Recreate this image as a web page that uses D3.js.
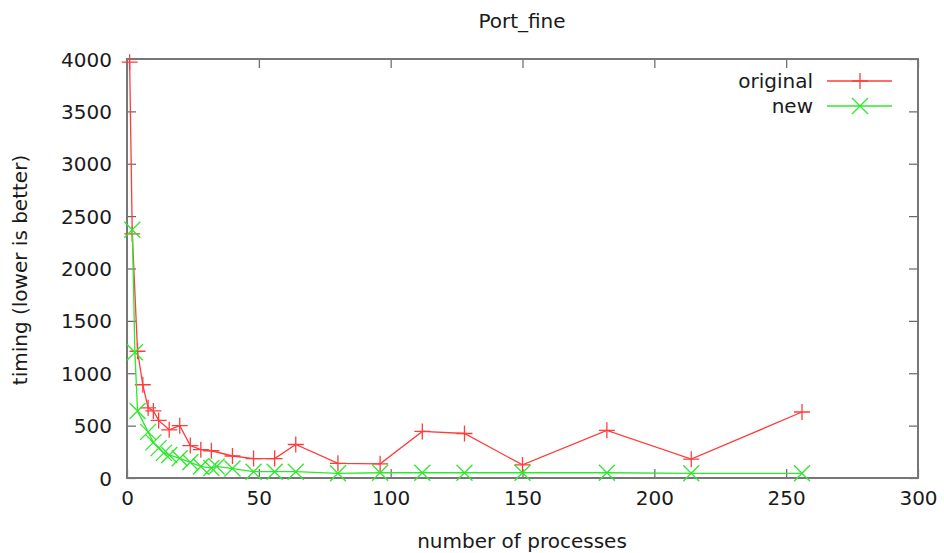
<!DOCTYPE html>
<html>
<head>
<meta charset="utf-8">
<script src="https://cdn.jsdelivr.net/npm/d3@7"></script>
<style>
	body { margin: 0; background: #fff; }
	svg text { font-family: "DejaVu Sans", sans-serif; fill: #1a1a1a; }
	.axis path { display: none; }
	.axis line { stroke: #666; stroke-width: 1.2; }
	.axis text { font-size: 20px; }
</style>
</head>
<body>
<div id="chart"></div>
<script>

var title = "Port_fine"
var xLabel = "number of processes"
var yLabel = "timing (lower is better)"

var xTicks = [0, 50, 100, 150, 200, 250, 300]
var yTicks = [0, 500, 1000, 1500, 2000, 2500, 3000, 3500, 4000]

// original
var originalX = [1, 2, 4, 6, 8, 10, 12, 16, 20, 24, 28, 32, 40, 48, 56, 64, 80, 96, 112, 128, 150, 182, 214, 256]
var originalY = [3970, 2330, 1210, 890, 670, 640, 550, 460, 500, 310, 270, 260, 210, 185, 185, 320, 140, 135, 445, 425, 125, 455, 180, 630]

// new
var newX = [2, 3, 4, 8, 10, 12, 14, 16, 20, 24, 28, 32, 34, 40, 48, 56, 64, 80, 96, 112, 128, 150, 182, 214, 256]
var newY = [2370, 1200, 640, 440, 340, 285, 240, 220, 188, 150, 110, 95, 110, 90, 60, 60, 60, 45, 50, 50, 50, 50, 50, 45, 45]

var width = 944
var height = 553

var margin = { left: 127, right: 26, top: 59, bottom: 75 }

var x = d3.scaleLinear().domain([0, 300]).range([margin.left, width - margin.right])
var y = d3.scaleLinear().domain([0, 4000]).range([height - margin.bottom, margin.top])

var svg = d3.select("#chart").append("svg")
	.attr("width", width)
	.attr("height", height)

// ticks, gnuplot style: inside, mirrored

var bottomAxis = svg.append("g")
	.attr("class", "axis")
	.attr("transform", `translate(0,${y(0)})`)
	.call(d3.axisBottom(x).tickValues(xTicks).tickSizeInner(-9).tickPadding(13).tickFormat(d3.format("d")))

bottomAxis.selectAll("text").attr("dy", "0.71em")

svg.append("g")
	.attr("class", "axis")
	.attr("transform", `translate(0,${y(4000)})`)
	.call(d3.axisTop(x).tickValues(xTicks).tickSizeInner(-9).tickFormat(""))

var leftAxis = svg.append("g")
	.attr("class", "axis")
	.attr("transform", `translate(${x(0)},0)`)
	.call(d3.axisLeft(y).tickValues(yTicks).tickSizeInner(-9).tickPadding(15).tickFormat(d3.format("d")))

leftAxis.selectAll("text").attr("dy", "0.35em")

svg.append("g")
	.attr("class", "axis")
	.attr("transform", `translate(${x(300)},0)`)
	.call(d3.axisRight(y).tickValues(yTicks).tickSizeInner(-9).tickFormat(""))

svg.append("rect")
	.attr("x", x(0))
	.attr("y", y(4000))
	.attr("width", x(300) - x(0))
	.attr("height", y(0) - y(4000))
	.attr("fill", "none")
	.attr("stroke", "#777")
	.attr("stroke-width", 2)

// labels

svg.append("text")
	.attr("x", 522)
	.attr("y", 28)
	.attr("text-anchor", "middle")
	.style("font-size", "20px")
	.text(title)

svg.append("text")
	.attr("x", 522)
	.attr("y", 548)
	.attr("text-anchor", "middle")
	.style("font-size", "20px")
	.text(xLabel)

svg.append("text")
	.attr("transform", "translate(27,270) rotate(-90)")
	.attr("text-anchor", "middle")
	.style("font-size", "20px")
	.text(yLabel)

// series

var series = [
	{ name: "original", xs: originalX, ys: originalY, colour: "#ff3b3b", marker: "plus", ly: 81 },
	{ name: "new", xs: newX, ys: newY, colour: "#2ee82e", marker: "cross", ly: 106 }
]

var line = d3.line().x(d => x(d[0])).y(d => y(d[1]))

function markerPath(type, s) {
	if (type === "plus") return `M${-s},0H${s}M0,${-s}V${s}`
	return `M${-s},${-s}L${s},${s}M${-s},${s}L${s},${-s}`
}

series.forEach(function(s) {

	var pts = s.xs.map((d, i) => [d, s.ys[i]])

	svg.append("path")
		.datum(pts)
		.attr("fill", "none")
		.attr("stroke", s.colour)
		.attr("stroke-width", 1.3)
		.attr("d", line)

	svg.selectAll(".m-" + s.name)
		.data(pts)
		.enter()
		.append("path")
		.attr("class", "m-" + s.name)
		.attr("transform", d => `translate(${x(d[0])},${y(d[1])})`)
		.attr("d", markerPath(s.marker, 8))
		.attr("fill", "none")
		.attr("stroke", s.colour)
		.attr("stroke-width", 1.3)

	// legend
	svg.append("text")
		.attr("x", 813)
		.attr("y", s.ly)
		.attr("dy", "0.35em")
		.attr("text-anchor", "end")
		.style("font-size", "20px")
		.text(s.name)

	svg.append("line")
		.attr("x1", 827)
		.attr("x2", 892)
		.attr("y1", s.ly)
		.attr("y2", s.ly)
		.attr("stroke", s.colour)
		.attr("stroke-width", 1.3)

	svg.append("path")
		.attr("transform", `translate(860,${s.ly})`)
		.attr("d", markerPath(s.marker, 8))
		.attr("fill", "none")
		.attr("stroke", s.colour)
		.attr("stroke-width", 1.3)

})

</script>
</body>
</html>
